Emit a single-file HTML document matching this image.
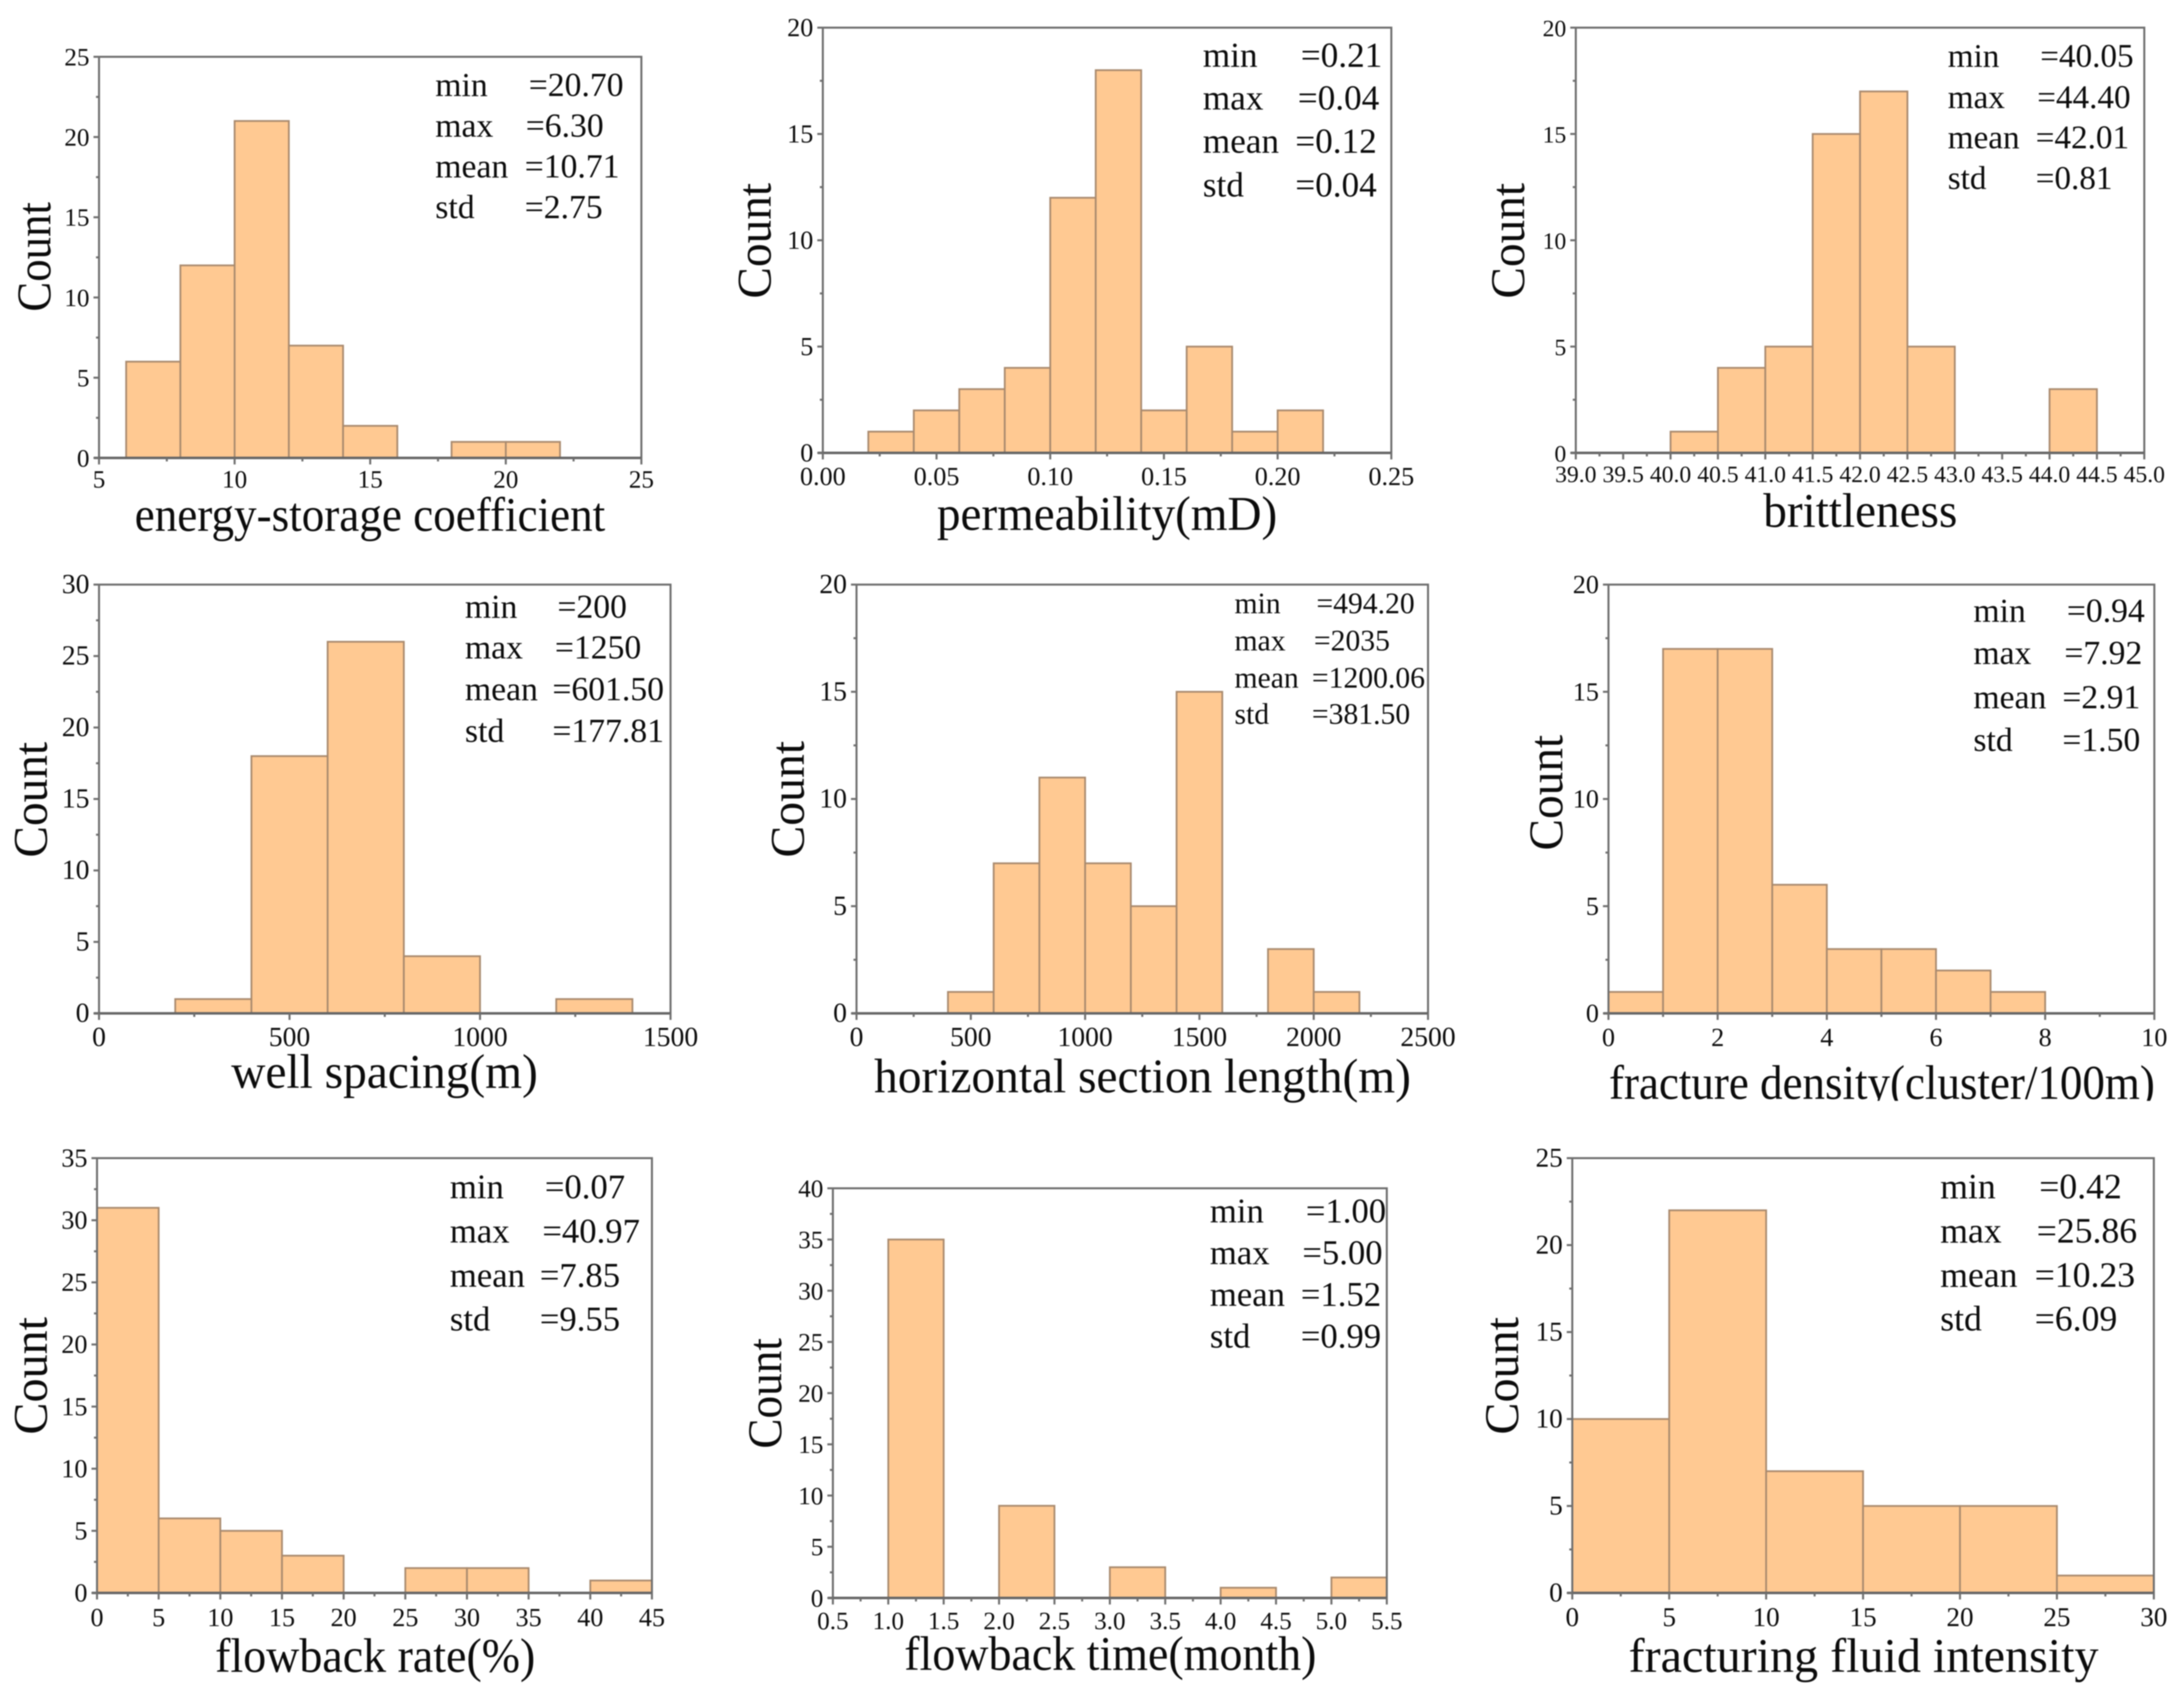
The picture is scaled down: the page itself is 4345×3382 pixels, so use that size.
<!DOCTYPE html>
<html lang="en">
<head>
<meta charset="utf-8">
<title>Histograms of well and fracturing parameters</title>
<style>
html,body{margin:0;padding:0;background:#fff;}
#figure{display:block;width:4345px;height:3382px;background:#fff;filter:blur(1.1px);}
text{font-family:"Liberation Serif","Times New Roman",serif;fill:#0c0c0c;}
</style>
</head>
<body>
<svg id="figure" xmlns="http://www.w3.org/2000/svg" width="4345" height="3382" viewBox="0 0 4345 3382"></svg>
<script>
// ---- chart data: bin edges, counts, tick labels, printed statistics ----
const statLabels = ["min", "max", "mean", "std"];
const countTitle = "Count";

const energyEdges = [6, 8, 10, 12, 14, 16, 18, 20, 22];
const energyCounts = [6, 12, 21, 7, 2, 0, 1, 1];
const energyXTicks = ["5", "10", "15", "20", "25"];
const energyYTicks = ["0", "5", "10", "15", "20", "25"];
const energyStats = ["=20.70", "=6.30", "=10.71", "=2.75"];

const permEdges = [0.02, 0.04, 0.06, 0.08, 0.10, 0.12, 0.14, 0.16, 0.18, 0.20, 0.22];
const permCounts = [1, 2, 3, 4, 12, 18, 2, 5, 1, 2];
const permXTicks = ["0.00", "0.05", "0.10", "0.15", "0.20", "0.25"];
const permYTicks = ["0", "5", "10", "15", "20"];
const permStats = ["=0.21", "=0.04", "=0.12", "=0.04"];

const brittleEdges = [40, 40.5, 41, 41.5, 42, 42.5, 43, 43.5, 44, 44.5];
const brittleCounts = [1, 4, 5, 15, 17, 5, 0, 0, 3];
const brittleXTicks = ["39.0", "39.5", "40.0", "40.5", "41.0", "41.5", "42.0", "42.5", "43.0", "43.5", "44.0", "44.5", "45.0"];
const brittleYTicks = ["0", "5", "10", "15", "20"];
const brittleStats = ["=40.05", "=44.40", "=42.01", "=0.81"];

const spacingEdges = [200, 400, 600, 800, 1000, 1200, 1400];
const spacingCounts = [1, 18, 26, 4, 0, 1];
const spacingXTicks = ["0", "500", "1000", "1500"];
const spacingYTicks = ["0", "5", "10", "15", "20", "25", "30"];
const spacingStats = ["=200", "=1250", "=601.50", "=177.81"];

const lengthEdges = [400, 600, 800, 1000, 1200, 1400, 1600, 1800, 2000, 2200];
const lengthCounts = [1, 7, 11, 7, 5, 15, 0, 3, 1];
const lengthXTicks = ["0", "500", "1000", "1500", "2000", "2500"];
const lengthYTicks = ["0", "5", "10", "15", "20"];
const lengthStats = ["=494.20", "=2035", "=1200.06", "=381.50"];

const densityEdges = [0, 1, 2, 3, 4, 5, 6, 7, 8];
const densityCounts = [1, 17, 17, 6, 3, 3, 2, 1];
const densityXTicks = ["0", "2", "4", "6", "8", "10"];
const densityYTicks = ["0", "5", "10", "15", "20"];
const densityStats = ["=0.94", "=7.92", "=2.91", "=1.50"];

const rateEdges = [0, 5, 10, 15, 20, 25, 30, 35, 40, 45];
const rateCounts = [31, 6, 5, 3, 0, 2, 2, 0, 1];
const rateXTicks = ["0", "5", "10", "15", "20", "25", "30", "35", "40", "45"];
const rateYTicks = ["0", "5", "10", "15", "20", "25", "30", "35"];
const rateStats = ["=0.07", "=40.97", "=7.85", "=9.55"];

const timeEdges = [1, 1.5, 2, 2.5, 3, 3.5, 4, 4.5, 5, 5.5];
const timeCounts = [35, 0, 9, 0, 3, 0, 1, 0, 2];
const timeXTicks = ["0.5", "1.0", "1.5", "2.0", "2.5", "3.0", "3.5", "4.0", "4.5", "5.0", "5.5"];
const timeYTicks = ["0", "5", "10", "15", "20", "25", "30", "35", "40"];
const timeStats = ["=1.00", "=5.00", "=1.52", "=0.99"];

const fluidEdges = [0, 5, 10, 15, 20, 25, 30];
const fluidCounts = [10, 22, 7, 5, 5, 1];
const fluidXTicks = ["0", "5", "10", "15", "20", "25", "30"];
const fluidYTicks = ["0", "5", "10", "15", "20", "25"];
const fluidStats = ["=0.42", "=25.86", "=10.23", "=6.09"];

// ---- panel definitions: data references ----
const panels = [
  {id:"energy-storage", title:"energy-storage coefficient", edges:energyEdges, counts:energyCounts, xTicks:energyXTicks, yTicks:energyYTicks, stats:energyStats},
  {id:"permeability", title:"permeability(mD)", edges:permEdges, counts:permCounts, xTicks:permXTicks, yTicks:permYTicks, stats:permStats},
  {id:"brittleness", title:"brittleness", edges:brittleEdges, counts:brittleCounts, xTicks:brittleXTicks, yTicks:brittleYTicks, stats:brittleStats},
  {id:"well-spacing", title:"well spacing(m)", edges:spacingEdges, counts:spacingCounts, xTicks:spacingXTicks, yTicks:spacingYTicks, stats:spacingStats},
  {id:"horizontal-length", title:"horizontal section length(m)", edges:lengthEdges, counts:lengthCounts, xTicks:lengthXTicks, yTicks:lengthYTicks, stats:lengthStats},
  {id:"fracture-density", title:"fracture density(cluster/100m)", edges:densityEdges, counts:densityCounts, xTicks:densityXTicks, yTicks:densityYTicks, stats:densityStats},
  {id:"flowback-rate", title:"flowback rate(%)", edges:rateEdges, counts:rateCounts, xTicks:rateXTicks, yTicks:rateYTicks, stats:rateStats},
  {id:"flowback-time", title:"flowback time(month)", edges:timeEdges, counts:timeCounts, xTicks:timeXTicks, yTicks:timeYTicks, stats:timeStats},
  {id:"fluid-intensity", title:"fracturing fluid intensity", edges:fluidEdges, counts:fluidCounts, xTicks:fluidXTicks, yTicks:fluidYTicks, stats:fluidStats}
];

// ---- page layout for each panel (separate from the data) ----
const layouts = [
  {x0:197,x1:1276,top:113,y0:911,tickFont:50,tickDy:59,titleX0:268,titleX1:1204,titleY:1056,countX:100,countY0:620,countY1:402,statX:866,valX:[1052,1046,1044,1044],statY:[191,272,353,434],statFont:67},
  {x0:1637,x1:2768,top:55,y0:901,tickFont:52,tickDy:64,titleX0:1864,titleX1:2541,titleY:1054,countX:1533,countY0:594,countY1:364,statX:2393,valX:[2588,2582,2577,2577],statY:[133,218,304,391],statFont:70},
  {x0:3135,x1:4266,top:55,y0:901,tickFont:47,tickDy:58,titleX0:3508,titleX1:3894,titleY:1048,countX:3032,countY0:594,countY1:364,statX:3875,valX:[4059,4053,4050,4050],statY:[133,215,295,376],statFont:66},
  {x0:197,x1:1334,top:1163,y0:2016,tickFont:55,tickDy:65,titleX0:460,titleX1:1070,titleY:2164,countX:93,countY0:1706,countY1:1476,statX:925,valX:[1109,1104,1099,1099],statY:[1229,1310,1393,1476],statFont:67},
  {x0:1704,x1:2841,top:1163,y0:2016,tickFont:55,tickDy:65,titleX0:1739,titleX1:2807,titleY:2173,countX:1599,countY0:1706,countY1:1474,statX:2456,valX:[2619,2614,2610,2610],statY:[1220,1294,1368,1440],statFont:59},
  {x0:3200,x1:4286,top:1163,y0:2016,tickFont:52,tickDy:65,titleX0:3201,titleX1:4287,titleY:2186,clipY:2190,countX:3108,countY0:1692,countY1:1462,statX:3926,valX:[4112,4107,4103,4103],statY:[1237,1321,1409,1494],statFont:67},
  {x0:193,x1:1297,top:2304,y0:3169,tickFont:52,tickDy:66,titleX0:428,titleX1:1065,titleY:3326,countX:93,countY0:2854,countY1:2620,statX:895,valX:[1084,1079,1074,1074],statY:[2384,2472,2560,2647],statFont:69},
  {x0:1657,x1:2759,top:2364,y0:3179,tickFont:50,tickDy:62,titleX0:1799,titleX1:2619,titleY:3322,countX:1554,countY0:2882,countY1:2662,statX:2407,valX:[2598,2591,2588,2588],statY:[2432,2515,2598,2681],statFont:69},
  {x0:3128,x1:4285,top:2304,y0:3169,tickFont:54,tickDy:66,titleX0:3240,titleX1:4175,titleY:3326,countX:3020,countY0:2854,countY1:2620,statX:3860,valX:[4057,4052,4048,4048],statY:[2384,2472,2560,2647],statFont:71}
];

const AXIS_COLOR = "#6f6f6f";
const BAR_FILL = "#ffc992";
const BAR_STROKE = "#a98a6e";
const svg = document.getElementById("figure");
const NS = "http://www.w3.org/2000/svg";

function make(parent, tag, attrs, txt) {
  const el = document.createElementNS(NS, tag);
  for (const k in attrs) el.setAttribute(k, attrs[k]);
  if (txt !== undefined) el.textContent = txt;
  parent.appendChild(el);
  return el;
}

panels.forEach(function (p, idx) {
  const L = layouts[idx];
  const xVals = p.xTicks.map(parseFloat);
  const yVals = p.yTicks.map(parseFloat);
  const xMin = xVals[0], xMax = xVals[xVals.length - 1];
  const yMax = yVals[yVals.length - 1];
  const sx = function (v) { return L.x0 + (v - xMin) / (xMax - xMin) * (L.x1 - L.x0); };
  const sy = function (v) { return L.y0 - v / yMax * (L.y0 - L.top); };

  const g = make(svg, "g", {});
  
  

  // bars
  p.counts.forEach(function (c, i) {
    if (c <= 0) return;
    const left = sx(p.edges[i]), right = sx(p.edges[i + 1]);
    const bar = make(g, "rect", {x:left, y:sy(c), width:right - left, height:sy(0) - sy(c), fill:BAR_FILL, stroke:BAR_STROKE, "stroke-width":3.5});
    
    
  });

  // plot frame
  const frame = make(g, "rect", {x:L.x0, y:L.top, width:L.x1 - L.x0, height:L.y0 - L.top, fill:"none", stroke:AXIS_COLOR, "stroke-width":4});
  
  
  const baseline = make(g, "line", {x1:L.x0 - 10, x2:L.x1, y1:L.y0, y2:L.y0, stroke:"#666", "stroke-width":5});
  
  

  // x ticks and labels
  p.xTicks.forEach(function (label, i) {
    const v = xVals[i];
    const tick = make(g, "line", {x1:sx(v), x2:sx(v), y1:L.y0, y2:L.y0 + 13, stroke:AXIS_COLOR, "stroke-width":4});
    
    
    const lab = make(g, "text", {x:sx(v), y:L.y0 + L.tickDy, "text-anchor":"middle", "font-size":L.tickFont}, label);
    
    
    if (i < xVals.length - 1) {
      const m = (v + xVals[i + 1]) / 2;
      const minor = make(g, "line", {x1:sx(m), x2:sx(m), y1:L.y0, y2:L.y0 + 7, stroke:AXIS_COLOR, "stroke-width":4});
      
      
    }
  });

  // y ticks and labels
  p.yTicks.forEach(function (label, i) {
    const v = yVals[i];
    const tick = make(g, "line", {x1:L.x0 - 11, x2:L.x0, y1:sy(v), y2:sy(v), stroke:AXIS_COLOR, "stroke-width":4});
    
    
    const lab = make(g, "text", {x:L.x0 - 19, y:sy(v) + 17, "text-anchor":"end", "font-size":L.tickFont}, label);
    
    
    if (i < yVals.length - 1) {
      const m = (v + yVals[i + 1]) / 2;
      const minor = make(g, "line", {x1:L.x0 - 6, x2:L.x0, y1:sy(m), y2:sy(m), stroke:AXIS_COLOR, "stroke-width":4});
      
      
    }
  });

  // x-axis title
  const titleAttrs = {x:L.titleX0, y:L.titleY, "font-size":96, textLength:L.titleX1 - L.titleX0, lengthAdjust:"spacingAndGlyphs"};
  if (L.clipY) {
    const cp = make(g, "clipPath", {id:"clip-" + p.id});
    make(cp, "rect", {x:0, y:0, width:4345, height:L.clipY});
    titleAttrs["clip-path"] = "url(#clip-" + p.id + ")";
  }
  const title = make(g, "text", titleAttrs, p.title);
  
  

  // y-axis title
  const yTitle = make(g, "text", {x:0, y:0, "font-size":96, textLength:L.countY0 - L.countY1, lengthAdjust:"spacingAndGlyphs", transform:"translate(" + L.countX + " " + L.countY0 + ") rotate(-90)"}, countTitle);
  
  

  // printed statistics
  statLabels.forEach(function (name, i) {
    const nameEl = make(g, "text", {x:L.statX, y:L.statY[i], "font-size":L.statFont}, name);
    
    
    const valEl = make(g, "text", {x:L.valX[i], y:L.statY[i], "font-size":L.statFont}, p.stats[i]);
    
    
  });
});
</script>
</body>
</html>
